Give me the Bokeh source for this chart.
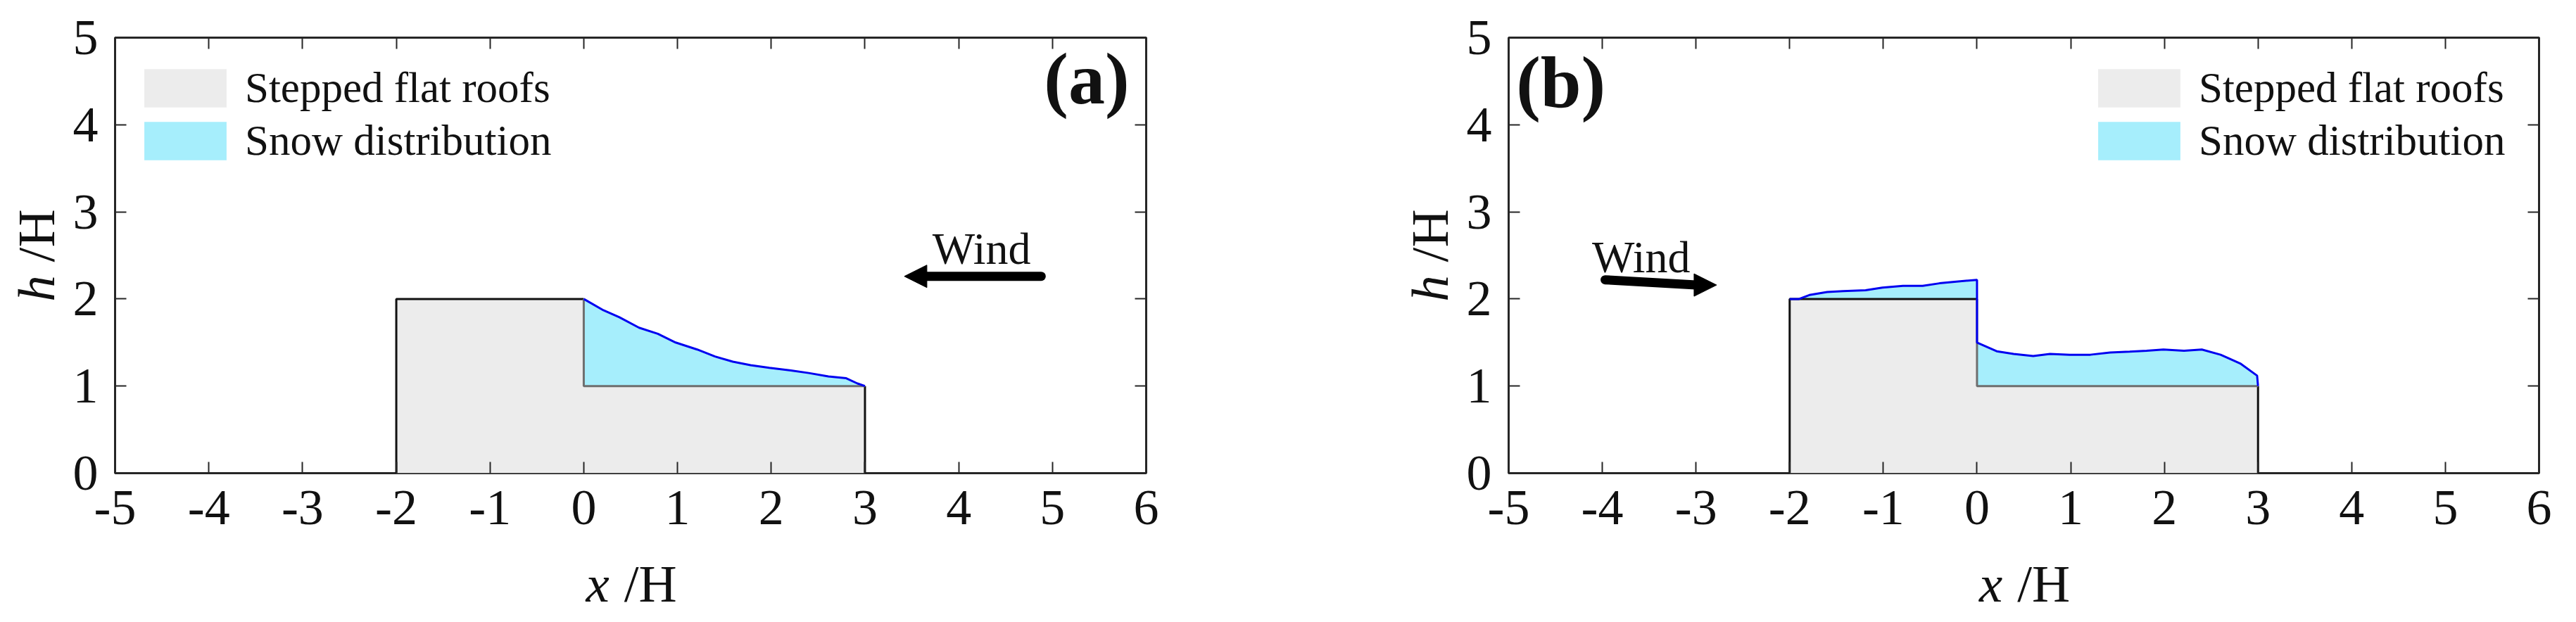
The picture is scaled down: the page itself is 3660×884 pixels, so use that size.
from bokeh.plotting import figure
from bokeh.models import (LinearAxis, FixedTicker, Label, Arrow, NormalHead,
                          Range1d, Legend, LegendItem)
from bokeh.layouts import row
from bokeh.embed import file_html
from bokeh.resources import INLINE

# ---------------- data ----------------
X_TICKS = [-5, -4, -3, -2, -1, 0, 1, 2, 3, 4, 5, 6]
X_TICK_LABELS = ["-5", "-4", "-3", "-2", "-1", "0", "1", "2", "3", "4", "5", "6"]
Y_TICKS = [0, 1, 2, 3, 4, 5]
Y_TICK_LABELS = ["0", "1", "2", "3", "4", "5"]

# stepped flat roofs profile (x/H, h/H)
ROOF_X = [-2, -2, 0, 0, 3, 3]
ROOF_H = [0, 2, 2, 1, 1, 0]

# snow surface, case (a): wind from the right
SNOW_A_X = [0.0, 0.21, 0.38, 0.59, 0.79, 0.98, 1.21, 1.40, 1.59, 1.78, 1.98,
            2.21, 2.40, 2.61, 2.80, 2.92, 3.0]
SNOW_A_H = [2.0, 1.87, 1.79, 1.67, 1.60, 1.50, 1.42, 1.34, 1.28, 1.24, 1.21,
            1.18, 1.15, 1.11, 1.09, 1.03, 1.0]

# snow surface, case (b): wind from the left
SNOW_B_X = [-2.0, -1.90, -1.79, -1.60, -1.43, -1.19, -1.01, -0.79, -0.58, -0.40,
            -0.22, 0.0, 0.0, 0.21, 0.39, 0.60, 0.78, 0.99, 1.21, 1.42, 1.63,
            1.81, 1.99, 2.21, 2.40, 2.60, 2.81, 2.99, 3.0]
SNOW_B_H = [2.0, 2.0, 2.045, 2.08, 2.09, 2.10, 2.13, 2.15, 2.15, 2.18,
            2.20, 2.22, 1.50, 1.40, 1.37, 1.345, 1.37, 1.36, 1.36, 1.385, 1.395,
            1.405, 1.42, 1.405, 1.42, 1.36, 1.26, 1.12, 1.0]

LEGEND_LABELS = ["Stepped flat roofs", "Snow distribution"]
X_TITLE = ["x", "/H"]
Y_TITLE = ["h", "/H"]
ROOF_FILL = "#ececec"
SNOW_FILL = "#a6eefc"
SNOW_LINE = "#0000f0"
FRAME = "#262626"
TXT = "#111111"
FONT = "Liberation Serif"
NB = "\u00a0"


def style_axis(ax, show_labels):
    ax.axis_line_color = None
    ax.major_tick_in = 16
    ax.major_tick_out = 0
    ax.minor_tick_line_color = None
    ax.major_tick_line_color = FRAME
    ax.major_tick_line_width = 2
    if show_labels:
        ax.major_label_text_font = FONT
        ax.major_label_text_font_size = "72px"
        ax.major_label_text_color = TXT
    else:
        ax.major_label_text_font_size = "1px"
        ax.major_label_text_color = None
        ax.major_label_standoff = 0


def title_style(ax, italic, standoff):
    ax.axis_label_text_font = FONT
    ax.axis_label_text_font_size = "75px"
    ax.axis_label_text_font_style = "italic" if italic else "normal"
    ax.axis_label_text_color = TXT
    ax.axis_label_standoff = standoff


def add_axis_titles(p, xa, ya):
    # italic variable on the main axis, upright "/H" on a companion axis
    # pulled back onto the same line
    xa.axis_label = X_TITLE[0] + NB * 5
    title_style(xa, True, 40)
    ya.axis_label = Y_TITLE[0] + NB * 5
    title_style(ya, True, 8)
    for place, txt in (("below", X_TITLE[1]), ("left", Y_TITLE[1])):
        ax = LinearAxis(ticker=FixedTicker(ticks=[]), axis_label=NB * 3 + txt)
        ax.axis_line_color = None
        ax.major_tick_line_color = None
        ax.minor_tick_line_color = None
        ax.major_tick_in = 0
        ax.major_tick_out = 0
        ax.major_label_text_color = None
        ax.major_label_text_font_size = "1px"
        ax.major_label_standoff = 0
        title_style(ax, False, -86)
        p.add_layout(ax, place)


def make_panel(snow_x, snow_h, tag, tag_x, tag_y, tag_align, legend_xy,
               wind_tail, wind_tip, wind_text_x, wind_text_y,
               width, b_left, b_right):
    p = figure(width=width, height=882, output_backend="svg",
               toolbar_location=None, x_range=Range1d(-5, 6),
               y_range=Range1d(0, 5), min_border_left=b_left,
               min_border_right=b_right, min_border_top=53,
               min_border_bottom=210, background_fill_color="white",
               border_fill_color="white")
    p.xgrid.visible = False
    p.ygrid.visible = False
    p.outline_line_color = FRAME
    p.outline_line_width = 3
    xa = p.below[0]
    ya = p.left[0]

    # roof body
    r_roof = p.patch(ROOF_X, ROOF_H, fill_color=ROOF_FILL, line_color=None)
    # snow polygon: snow surface, then back along the roof surface beneath
    surf = list(zip(ROOF_X[1:-1], ROOF_H[1:-1]))
    lo, hi = min(snow_x), max(snow_x)
    back = [pt for pt in reversed(surf) if lo <= pt[0] <= hi]
    px = list(snow_x) + [pt[0] for pt in back]
    py = list(snow_h) + [pt[1] for pt in back]
    r_snow = p.patch(px, py, fill_color=SNOW_FILL, line_color=None)

    # roof outlines
    p.line(ROOF_X[0:3], ROOF_H[0:3], line_color="#111111", line_width=3)
    p.line(ROOF_X[4:6], ROOF_H[4:6], line_color="#111111", line_width=3)
    p.line(ROOF_X[2:5], ROOF_H[2:5], line_color="#6e6e6e", line_width=3)
    # snow surface line
    p.line(snow_x, snow_h, line_color=SNOW_LINE, line_width=3)

    # axes
    style_axis(xa, True)
    style_axis(ya, True)
    xa.ticker = FixedTicker(ticks=X_TICKS)
    xa.major_label_overrides = dict(zip(X_TICKS, X_TICK_LABELS))
    xa.major_label_standoff = 25
    ya.ticker = FixedTicker(ticks=Y_TICKS)
    ya.major_label_overrides = dict(zip(Y_TICKS, Y_TICK_LABELS))
    ya.major_label_standoff = 24

    add_axis_titles(p, xa, ya)

    # mirror ticks
    top = LinearAxis(ticker=FixedTicker(ticks=X_TICKS))
    right = LinearAxis(ticker=FixedTicker(ticks=Y_TICKS))
    style_axis(top, False)
    style_axis(right, False)
    p.add_layout(top, "above")
    p.add_layout(right, "right")

    # panel tag
    p.add_layout(Label(x=tag_x, y=tag_y, text=tag, text_font=FONT,
                       text_font_style="bold", text_font_size="104px",
                       text_align=tag_align, text_baseline="middle",
                       text_color=TXT))

    # wind arrow
    hx = 0.22 if wind_tip[0] < wind_tail[0] else -0.22
    p.segment(x0=[wind_tail[0]], y0=[wind_tail[1]],
              x1=[wind_tip[0] + hx], y1=[wind_tip[1]],
              line_color="black", line_width=13, line_cap="round")
    p.add_layout(Arrow(end=NormalHead(size=32, fill_color="black",
                                      line_color="black", line_width=1),
                       x_start=wind_tip[0] + hx, y_start=wind_tip[1],
                       x_end=wind_tip[0], y_end=wind_tip[1],
                       line_color="black", line_width=1))
    p.add_layout(Label(x=wind_text_x, y=wind_text_y, text="Wind",
                       text_font=FONT, text_font_size="64px",
                       text_align="left", text_baseline="alphabetic",
                       text_color=TXT))

    legend = Legend(items=[LegendItem(label=LEGEND_LABELS[0], renderers=[r_roof]),
                           LegendItem(label=LEGEND_LABELS[1], renderers=[r_snow])],
                    location=legend_xy, glyph_width=146, glyph_height=68,
                    label_height=68, spacing=5, label_standoff=12,
                    padding=0, margin=0, border_line_color=None,
                    background_fill_alpha=0, label_text_font=FONT,
                    label_text_font_size="61px", label_text_color=TXT)
    p.add_layout(legend)
    return p


pa = make_panel(SNOW_A_X, SNOW_A_H, "(a)", 5.82, 4.53, "right", (27, 437),
                (4.88, 2.26), (3.42, 2.26), 3.72, 2.58,
                width=1980, b_left=163, b_right=352)
pb = make_panel(SNOW_B_X, SNOW_B_H, "(b)", -4.92, 4.49, "left", (823, 437),
                (-3.97, 2.22), (-2.78, 2.16), -4.11, 2.48,
                width=1657, b_left=163, b_right=30)

layout = row(pa, pb)
open("out.html", "w").write(file_html(layout, INLINE))
